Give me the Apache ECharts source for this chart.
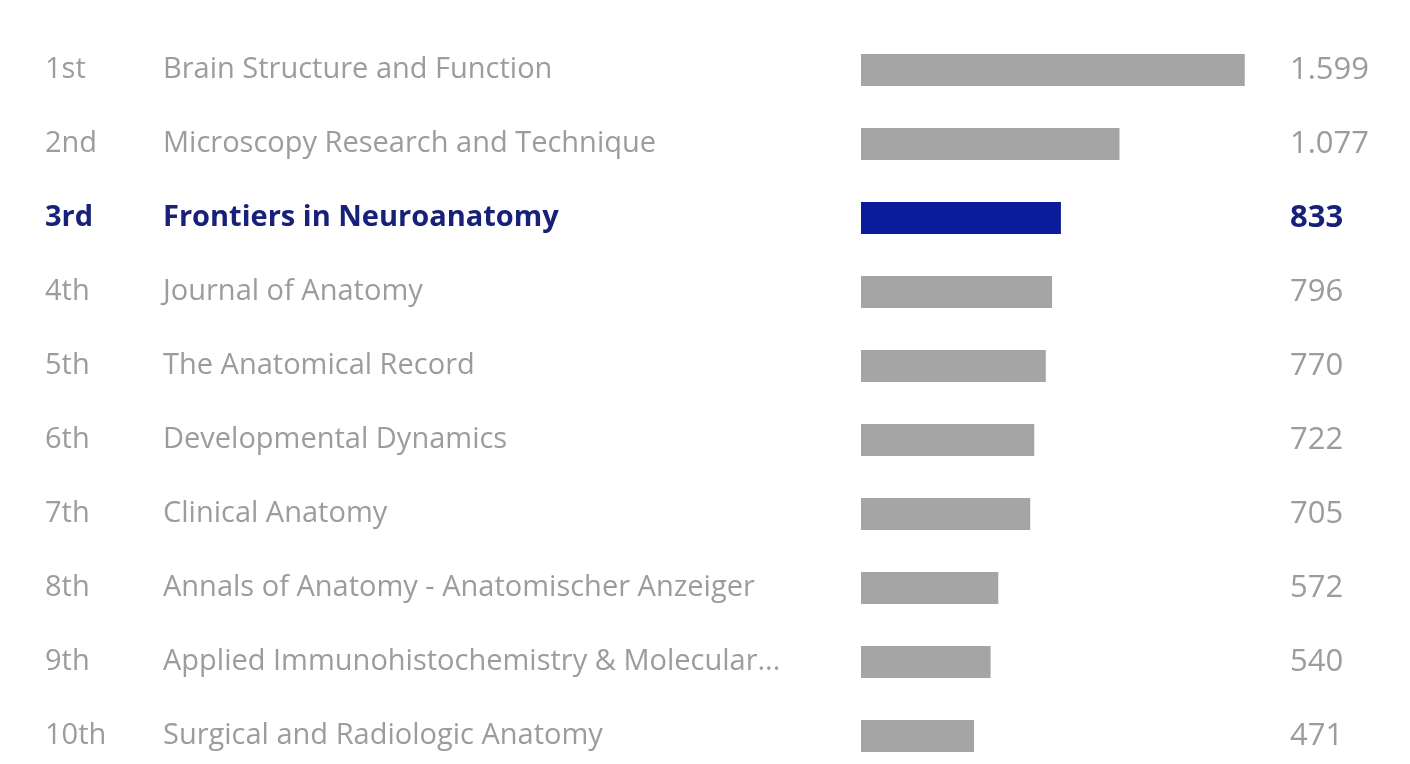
<!DOCTYPE html>
<html>
<head>
<meta charset="utf-8">
<script src="https://cdn.jsdelivr.net/npm/echarts@6/dist/echarts.min.js"></script>
<style>
  html, body { margin: 0; padding: 0; background: #fff; }
  #chart { width: 1410px; height: 764px; }
</style>
</head>
<body>
<div id="chart"></div>
<script>
const ranks = ['1st', '2nd', '3rd', '4th', '5th', '6th', '7th', '8th', '9th', '10th']
const journals = [
  'Brain Structure and Function',
  'Microscopy Research and Technique',
  'Frontiers in Neuroanatomy',
  'Journal of Anatomy',
  'The Anatomical Record',
  'Developmental Dynamics',
  'Clinical Anatomy',
  'Annals of Anatomy - Anatomischer Anzeiger',
  'Applied Immunohistochemistry & Molecular...',
  'Surgical and Radiologic Anatomy',
]
const values = [1599, 1077, 833, 796, 770, 722, 705, 572, 540, 471]
const highlight = 2

const grey = '#a5a5a5'
const greyText = '#9c9c9c'
const navy = '#0a1c9a'
const navyText = '#17217a'
const font = 'Open Sans'

// 1599 -> "1.599"
const fmt = v => String(v).replace(/\B(?=(\d{3})+(?!\d))/g, '.')

const chart = echarts.init(document.getElementById('chart'))
chart.setOption({
  animation: false,
  textStyle: { fontFamily: font },
  grid: { left: 861, right: 129, top: 70, bottom: 28 },
  xAxis: {
    type: 'value',
    min: 0,
    max: 1750,
    show: false,
  },
  yAxis: [
    {
      type: 'category',
      inverse: true,
      boundaryGap: false,
      data: journals,
      axisLine: { show: false },
      axisTick: { show: false },
      axisLabel: {
        align: 'left',
        margin: 816,
        formatter: (name, i) => {
          const hl = i === highlight ? 'b' : ''
          return '{r' + hl + '|' + ranks[i] + '}{n' + hl + '|' + name + '}'
        },
        rich: {
          r: { width: 118, fontSize: 29, color: greyText, fontFamily: font },
          n: { fontSize: 29, color: greyText, fontFamily: font },
          rb: { width: 118, fontSize: 29, color: navyText, fontWeight: 'bold', fontFamily: font },
          nb: { fontSize: 29, color: navyText, fontWeight: 'bold', fontFamily: font },
        },
      },
    },
    {
      type: 'category',
      inverse: true,
      boundaryGap: false,
      position: 'right',
      data: values.map(fmt),
      axisLine: { show: false },
      axisTick: { show: false },
      axisLabel: {
        align: 'left',
        margin: 9,
        formatter: (v, i) => (i === highlight ? '{b|' + v + '}' : '{g|' + v + '}'),
        rich: {
          g: { fontSize: 31, color: greyText, fontFamily: font },
          b: { fontSize: 31, color: navyText, fontWeight: 'bold', fontFamily: font },
        },
      },
    },
  ],
  series: [
    {
      type: 'bar',
      barWidth: 32,
      clip: false,
      data: values.map((v, i) => ({
        value: v,
        itemStyle: { color: i === highlight ? navy : grey },
      })),
    },
  ],
})
</script>
</body>
</html>
